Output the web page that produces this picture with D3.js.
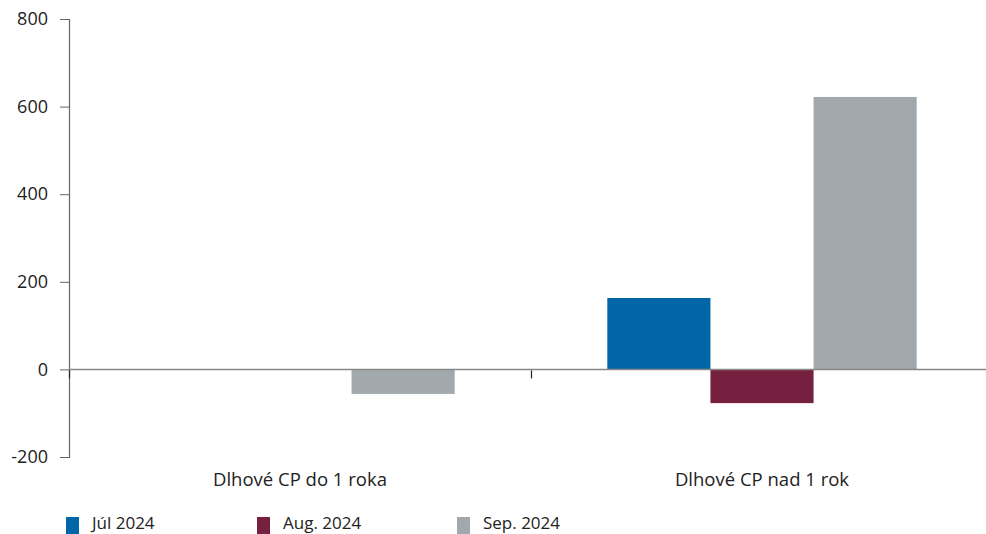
<!DOCTYPE html>
<html>
<head>
<meta charset="utf-8">
<script src="https://cdn.jsdelivr.net/npm/d3@7"></script>
<style>
  body { margin: 0; background: #fff; }
  text { font-family: "Open Sans", Lato, sans-serif; fill: #222; }
</style>
</head>
<body>
<div id="chart"></div>
<script>
const categories = ["Dlhové CP do 1 roka", "Dlhové CP nad 1 rok"]
const series = ["Júl 2024", "Aug. 2024", "Sep. 2024"]
const jul = [0, 163]
const aug = [0, -77]
const sep = [-56, 622]
const yTicks = [-200, 0, 200, 400, 600, 800]
const colors = ["#0066a8", "#74203e", "#a2a9ac"]

const width = 986
const height = 534
const margin = { top: 19, right: -7, bottom: 77, left: 69 }

const svg = d3.select("#chart")
    .append("svg")
    .attr("width", width)
    .attr("height", height)

const values = [jul, aug, sep]

// scales
const x0 = d3.scaleBand()
    .domain(categories)
    .range([margin.left, width - margin.right])
const x1 = d3.scaleBand()
    .domain(series)
    .range([0, x0.bandwidth()])
    .paddingOuter(0.74)
const y = d3.scaleLinear()
    .domain([-200, 800])
    .range([height - margin.bottom, margin.top])

// bars
categories.forEach((cat, ci) => {
    series.forEach((s, si) => {
        const v = values[si][ci]
        if (v === 0) return
        svg.append("rect")
            .attr("x", x0(cat) + x1(s))
            .attr("width", x1.bandwidth())
            .attr("y", y(Math.max(0, v)))
            .attr("height", Math.abs(y(v) - y(0)))
            .attr("fill", colors[si])
    })
})

// y axis
const yAxis = svg.append("g")
    .attr("transform", `translate(${margin.left},0)`)
    .call(d3.axisLeft(y).tickValues(yTicks).tickSize(9).tickPadding(12).tickFormat(d => String(d)))
yAxis.select(".domain").attr("stroke", "#666").attr("stroke-width", 1.2)
yAxis.selectAll(".tick line").attr("stroke", "#666")
yAxis.selectAll("text").style("font-size", "18px").attr("fill", "#222")

// zero line
svg.append("line")
    .attr("x1", margin.left)
    .attr("x2", 986)
    .attr("y1", y(0))
    .attr("y2", y(0))
    .attr("stroke", "#888")
    .attr("stroke-width", 1.5)

// category ticks
categories.forEach(cat => {
    svg.append("line")
        .attr("x1", x0(cat) + 0.5)
        .attr("x2", x0(cat) + 0.5)
        .attr("y1", y(0) + 1)
        .attr("y2", y(0) + 9)
        .attr("stroke", "#222")
        .attr("stroke-width", 1.2)
})

// category labels
svg.selectAll(".cat")
    .data(categories)
    .join("text")
    .attr("x", d => x0(d) + x0.bandwidth() / 2)
    .attr("y", 486)
    .attr("text-anchor", "middle")
    .style("font-size", "18.5px")
    .text(d => d)

// legend
const legendX = [66, 257, 457]
series.forEach((s, i) => {
    svg.append("rect")
        .attr("x", legendX[i])
        .attr("y", 517)
        .attr("width", 13)
        .attr("height", 17)
        .attr("fill", colors[i])
    svg.append("text")
        .attr("x", legendX[i] + 26)
        .attr("y", 529)
        .style("font-size", "17px")
        .text(s)
})
</script>
</body>
</html>
